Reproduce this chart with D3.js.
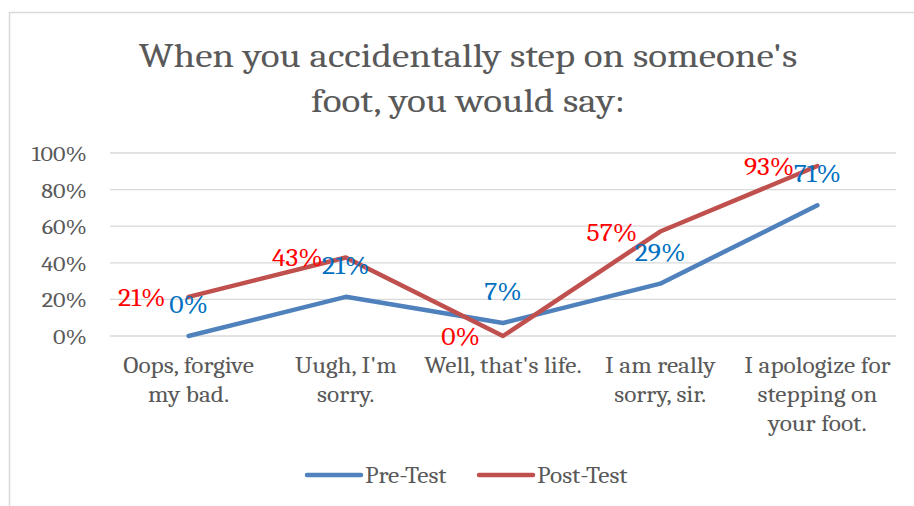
<!DOCTYPE html>
<html>
<head>
<meta charset="utf-8">
<script src="https://cdn.jsdelivr.net/npm/d3@7"></script>
<style>
  html, body { margin: 0; padding: 0; background: #fff; }
  svg { display: block; }
</style>
</head>
<body>
<div id="chart"></div>
<script>
// data
const categories = [
  "Oops, forgive my bad.",
  "Uugh, I'm sorry.",
  "Well, that's life.",
  "I am really sorry, sir.",
  "I apologize for stepping on your foot."
];
// how the axis labels wrap in the picture
const categoryLines = [
  ["Oops, forgive", "my bad."],
  ["Uugh, I'm", "sorry."],
  ["Well, that's life."],
  ["I am really", "sorry, sir."],
  ["I apologize for", "stepping on", "your foot."]
];
const preTest = [0, 0.214, 0.071, 0.286, 0.714];
const postTest = [0.214, 0.429, 0, 0.571, 0.929];
const yTicks = [0, 0.2, 0.4, 0.6, 0.8, 1];
const titleLines = ["When you accidentally step on someone's", "foot, you would say:"];

const width = 914, height = 506;
const font = "Cambria, Caladea, 'DejaVu Serif', serif";
// the source picture is a little wider than the font, so text gets stretched
const sx = 1.15;

const svg = d3.select("#chart").append("svg")
  .attr("width", width)
  .attr("height", height);

// put a text at (px, py) with the horizontal stretch
function placeText(g, px, py) {
  return g.append("text")
    .attr("transform", `translate(${px},${py}) scale(${sx},1)`)
    .attr("font-family", font);
}

// chart frame, runs off the right and bottom edge
svg.append("rect")
  .attr("x", 9.5).attr("y", 12.5)
  .attr("width", 930).attr("height", 520)
  .attr("fill", "#fff")
  .attr("stroke", "#d9d9d9")
  .attr("stroke-width", 1.5);

// title
placeText(svg, 468, 67)
  .attr("text-anchor", "middle")
  .attr("font-size", 34)
  .attr("fill", "#595959")
  .selectAll("tspan")
  .data(titleLines)
  .join("tspan")
  .attr("x", 0)
  .attr("y", (d, i) => i * 45)
  .text(d => d);

const x = d3.scalePoint().domain(categories).range([110, 896]).padding(0.5);
const y = d3.scaleLinear().domain([0, 1]).range([336, 153]);

// gridlines
svg.append("g")
  .selectAll("line")
  .data(yTicks)
  .join("line")
  .attr("x1", 110).attr("x2", 896)
  .attr("y1", d => y(d)).attr("y2", d => y(d))
  .attr("stroke", "#d9d9d9")
  .attr("stroke-width", 1.3);

// y tick labels
const tickG = svg.append("g");
yTicks.forEach(t => {
  placeText(tickG, 87, y(t) + 8)
    .attr("text-anchor", "end")
    .attr("font-size", 21)
    .attr("fill", "#595959")
    .text(d3.format(".0%")(t));
});

// category labels
const catG = svg.append("g");
categories.forEach((c, i) => {
  placeText(catG, x(c), 373)
    .attr("text-anchor", "middle")
    .attr("font-size", 22)
    .attr("fill", "#595959")
    .selectAll("tspan")
    .data(categoryLines[i])
    .join("tspan")
    .attr("x", 0)
    .attr("y", (t, j) => j * 29)
    .text(t => t);
});

const line = d3.line()
  .x((d, i) => x(categories[i]))
  .y(d => y(d));

const series = [
  { name: "Pre-Test", values: preTest, color: "#4f81bd" },
  { name: "Post-Test", values: postTest, color: "#c0504d" }
];

series.forEach(s => {
  svg.append("path")
    .datum(s.values)
    .attr("d", line)
    .attr("fill", "none")
    .attr("stroke", s.color)
    .attr("stroke-width", 4.5)
    .attr("stroke-linecap", "round")
    .attr("stroke-linejoin", "round");
});

// data labels: pre-test above, post-test to the left
const preG = svg.append("g");
preTest.forEach((v, i) => {
  placeText(preG, x(categories[i]), y(v) - 23)
    .attr("text-anchor", "middle")
    .attr("font-size", 24)
    .attr("fill", "#0070c0")
    .text(d3.format(".0%")(v));
});

const postG = svg.append("g");
postTest.forEach((v, i) => {
  placeText(postG, x(categories[i]) - 23, y(v) + 9)
    .attr("text-anchor", "end")
    .attr("font-size", 24)
    .attr("fill", "#ff0000")
    .text(d3.format(".0%")(v));
});

// legend
const legendX = [307, 479];
const legend = svg.append("g")
  .selectAll("g")
  .data(series)
  .join("g")
  .attr("transform", (d, i) => `translate(${legendX[i]},475)`);

legend.append("line")
  .attr("x1", 0).attr("x2", 54)
  .attr("stroke", d => d.color)
  .attr("stroke-width", 4.5)
  .attr("stroke-linecap", "round");

legend.each(function (d) {
  placeText(d3.select(this), 58, 7.5)
    .attr("font-size", 22)
    .attr("fill", "#595959")
    .text(d.name);
});
</script>
</body>
</html>
